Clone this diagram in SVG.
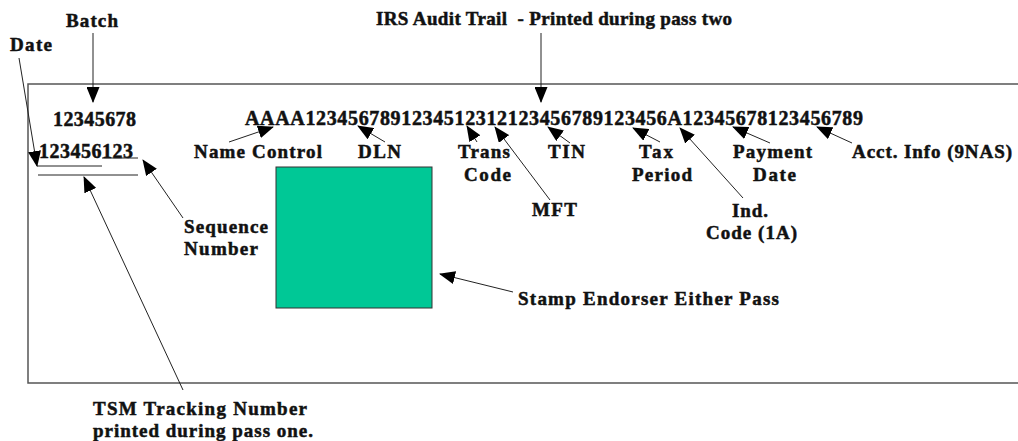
<svg xmlns="http://www.w3.org/2000/svg" width="1018" height="441" viewBox="0 0 1018 441">
<style>
text{font-family:"Liberation Serif","Times New Roman",serif;font-weight:700;fill:#111;stroke:#111;stroke-width:0.5;}
.lbl{font-size:19px;}
.dat{font-size:20px;}
.conn line{stroke:#222;stroke-width:1;marker-end:url(#ah);}
.ul line{stroke:#222;stroke-width:1;}
</style>
<defs>
<marker id="ah" markerUnits="userSpaceOnUse" markerWidth="16" markerHeight="13" refX="15" refY="6.5" orient="auto">
<path d="M0,0 L16,6.5 L0,13 z" fill="#000"/>
</marker>
</defs>
<rect x="0" y="0" width="1018" height="441" fill="#fff"/>
<g id="form">
<path d="M1020,84 H28 V383 H1020" fill="none" stroke="#555" stroke-width="1.5"/>
</g>
<g id="stamp">
<rect x="276" y="167" width="156" height="141" fill="#00C896" stroke="#333" stroke-width="1"/>
</g>
<g id="batch"><text class="lbl" x="66" y="27" textLength="52" lengthAdjust="spacing">Batch</text></g>
<g id="date"><text class="lbl" x="10" y="51" textLength="42" lengthAdjust="spacing">Date</text></g>
<g id="title"><text class="lbl" x="376" y="25" textLength="356" lengthAdjust="spacing" xml:space="preserve">IRS Audit Trail  - Printed during pass two</text></g>
<g id="batchnum"><text class="dat" x="53" y="126" textLength="83" lengthAdjust="spacing">12345678</text></g>
<g id="datenum"><text class="dat" x="39" y="158" textLength="94" lengthAdjust="spacing">123456123</text></g>
<g id="audittrail"><text class="dat" x="245" y="125" textLength="618" lengthAdjust="spacing">AAAA1234567891234512312123456789123456A12345678123456789</text></g>
<g id="namecontrol"><text class="lbl" x="194" y="158" textLength="128" lengthAdjust="spacing">Name Control</text></g>
<g id="dln"><text class="lbl" x="358" y="158" textLength="43" lengthAdjust="spacing">DLN</text></g>
<g id="transcode"><text class="lbl" x="458" y="158" textLength="52" lengthAdjust="spacing">Trans</text><text class="lbl" x="464" y="181" textLength="47" lengthAdjust="spacing">Code</text></g>
<g id="mft"><text class="lbl" x="532" y="216" textLength="45" lengthAdjust="spacing">MFT</text></g>
<g id="tin"><text class="lbl" x="548" y="158" textLength="37" lengthAdjust="spacing">TIN</text></g>
<g id="taxperiod"><text class="lbl" x="639" y="158" textLength="34" lengthAdjust="spacing">Tax</text><text class="lbl" x="632" y="181" textLength="60" lengthAdjust="spacing">Period</text></g>
<g id="indcode"><text class="lbl" x="732" y="217" textLength="36" lengthAdjust="spacing">Ind.</text><text class="lbl" x="706" y="239" textLength="91" lengthAdjust="spacing">Code (1A)</text></g>
<g id="paymentdate"><text class="lbl" x="733" y="158" textLength="79" lengthAdjust="spacing">Payment</text><text class="lbl" x="753" y="181" textLength="43" lengthAdjust="spacing">Date</text></g>
<g id="acctinfo"><text class="lbl" x="852" y="158" textLength="160" lengthAdjust="spacing">Acct. Info (9NAS)</text></g>
<g id="sequence"><text class="lbl" x="184" y="233" textLength="84" lengthAdjust="spacing">Sequence</text><text class="lbl" x="184" y="255" textLength="74" lengthAdjust="spacing">Number</text></g>
<g id="stamplabel"><text class="lbl" x="518" y="305" textLength="261" lengthAdjust="spacing">Stamp Endorser Either Pass</text></g>
<g id="tsm"><text class="lbl" x="93" y="415" textLength="214" lengthAdjust="spacing">TSM Tracking Number</text><text class="lbl" x="93" y="437" textLength="220" lengthAdjust="spacing">printed during pass one.</text></g>
<g id="underlines" class="ul">
<line x1="102" y1="158" x2="138" y2="158"/>
<line x1="37" y1="166" x2="102" y2="166"/>
<line x1="38" y1="175" x2="138" y2="175"/>
</g>
<g id="connectors" class="conn">
<line x1="93" y1="33" x2="93" y2="102"/>
<line x1="19" y1="58" x2="37" y2="166"/>
<line x1="541" y1="33" x2="541" y2="102"/>
<line x1="229" y1="142" x2="273" y2="127"/>
<line x1="385" y1="142" x2="358" y2="126"/>
<line x1="477" y1="142" x2="467" y2="126"/>
<line x1="550" y1="200" x2="495" y2="127"/>
<line x1="570" y1="143" x2="548" y2="127"/>
<line x1="660" y1="142" x2="633" y2="128"/>
<line x1="743" y1="198" x2="680" y2="128"/>
<line x1="770" y1="143" x2="733" y2="127"/>
<line x1="852" y1="143" x2="817" y2="127"/>
<line x1="183" y1="218" x2="143" y2="160"/>
<line x1="183" y1="390" x2="84" y2="177"/>
<line x1="513" y1="292" x2="440" y2="274"/>
</g>
</svg>
